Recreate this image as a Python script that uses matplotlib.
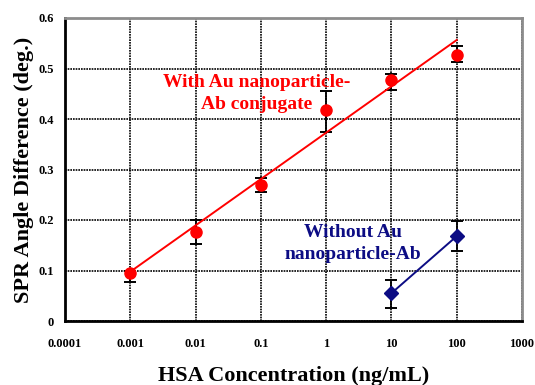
import numpy as np
from matplotlib import pyplot as plt

# Dados
conc_au = [0.001, 0.01, 0.1, 1, 10, 100]
spr_au = [0.095, 0.176, 0.269, 0.418, 0.477, 0.527]
err_au_low = [0.078, 0.152, 0.255, 0.374, 0.457, 0.512]
err_au_high = [0.100, 0.200, 0.283, 0.456, 0.490, 0.545]

conc_sem = [10, 100]
spr_sem = [0.055, 0.168]
err_sem_low = [0.026, 0.139]
err_sem_high = [0.081, 0.198]

xticks = [0.0001, 0.001, 0.01, 0.1, 1, 10, 100, 1000]
xtick_labels = ["0.0001", "0.001", "0.01", "0.1", "1", "10", "100", "1000"]
yticks = [0, 0.1, 0.2, 0.3, 0.4, 0.5, 0.6]
ytick_labels = ["0", "0.1", "0.2", "0.3", "0.4", "0.5", "0.6"]

RED = "#ff0000"
BLUE = "#0c0c84"

plt.rcParams["font.family"] = "Liberation Serif"
plt.rcParams["font.weight"] = "bold"

fig = plt.figure(figsize=(5.35, 3.85), dpi=100)
ax = fig.add_axes([65 / 535, 1 - 321 / 385, 457 / 535, 303 / 385])

# Barras de erro (pretas, atrás dos marcadores)
au = np.array(spr_au)
ax.errorbar(conc_au, au, yerr=[au - np.array(err_au_low), np.array(err_au_high) - au],
            fmt="none", ecolor="black", elinewidth=1.3, capsize=4, capthick=1.4, zorder=3)
sem = np.array(spr_sem)
ax.errorbar(conc_sem, sem, yerr=[sem - np.array(err_sem_low), np.array(err_sem_high) - sem],
            fmt="none", ecolor="black", elinewidth=1.3, capsize=4, capthick=1.4, zorder=3)

# Reta de ajuste (log x)
lx = np.log10(conc_au)
a, b = np.polyfit(lx, au, 1)
ax.plot(conc_au, a * lx + b, color=RED, lw=1.4, zorder=4)
ax.plot(conc_au, spr_au, "o", color=RED, ms=8, zorder=5)

ax.plot(conc_sem, spr_sem, "-D", color=BLUE, lw=1.4, ms=7, zorder=5)

ax.text(0.42, 0.752, "With Au nanoparticle-\nAb conjugate", transform=ax.transAxes,
        ha="center", va="center", color=RED, fontsize=14, fontweight="bold",
        linespacing=1.4)
ax.text(0.63, 0.257, "Without Au\nnanoparticle-Ab", transform=ax.transAxes,
        ha="center", va="center", color=BLUE, fontsize=14, fontweight="bold",
        linespacing=1.4)

ax.set_xscale("log")
ax.set_xlim(1e-4, 1e3)
ax.set_ylim(0, 0.6)
ax.set_xticks(xticks)
ax.set_xticklabels(xtick_labels)
ax.minorticks_off()
ax.set_yticks(yticks)
ax.set_yticklabels(ytick_labels)
ax.tick_params(length=0, labelsize=9)
ax.tick_params(axis="x", pad=12)
ax.tick_params(axis="y", pad=8)

ax.grid(True, color="black", linestyle=(0, (1.0, 0.6)), linewidth=1.2)
ax.set_axisbelow(True)

for s in ["left", "bottom"]:
    ax.spines[s].set_color("black")
    ax.spines[s].set_linewidth(2)
for s in ["top", "right"]:
    ax.spines[s].set_color("#8c8c8c")
    ax.spines[s].set_linewidth(2)

ax.set_xlabel("HSA Concentration (ng/mL)", fontsize=16, fontweight="bold", labelpad=12)
ax.set_ylabel("SPR Angle Difference (deg.)", fontsize=16, fontweight="bold", labelpad=3)

fig.savefig("out.png", dpi=100)
